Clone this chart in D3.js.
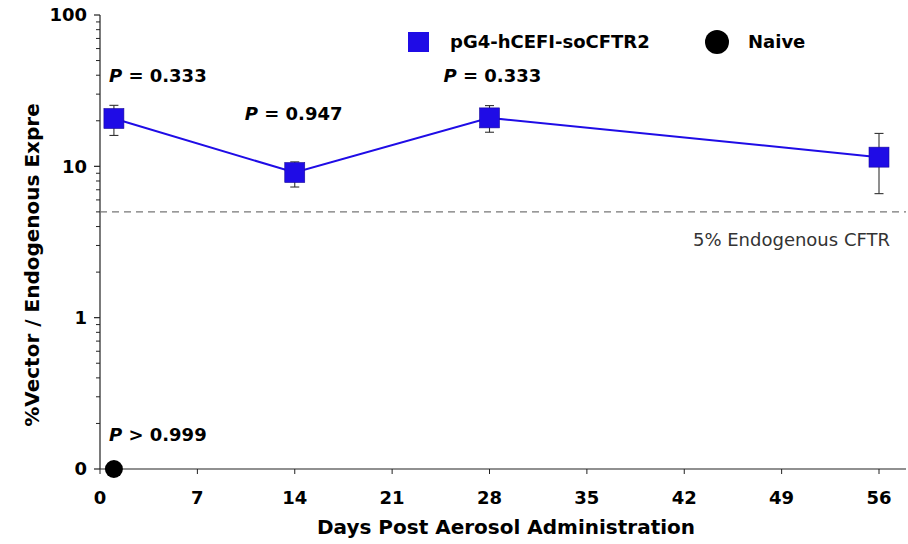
<!DOCTYPE html>
<html><head><meta charset="utf-8">
<script src="https://cdn.jsdelivr.net/npm/d3@7"></script>
<style>body{margin:0;background:#fff}svg{display:block}text{font-family:"DejaVu Sans",Verdana,sans-serif}</style>
</head><body><svg id="c" width="908" height="544"></svg>
<script>
const days = [1, 14, 28, 56];
const vectorMean = [20.7, 9.1, 20.9, 11.5];
const vectorUpper = [25.3, 10.7, 25.2, 16.5];
const vectorLower = [16.0, 7.3, 16.8, 6.6];
const naiveDays = [1];
const naiveValues = [0.1];
const xTicks = [0, 7, 14, 21, 28, 35, 42, 49, 56];
const yTicks = [0.1, 1, 10, 100];
const yTickLabels = ["0", "1", "10", "100"];
const threshold = 5;
const pLabels = [
  {day: 1, value: 40, op: "=", p: "0.333"},
  {day: 14, value: 22.5, op: "=", p: "0.947"},
  {day: 28, value: 40, op: "=", p: "0.333"},
  {day: 1, value: 0.17, op: ">", p: "0.999"}
];
const pLabelShift = [-5, -50, -46, -5];

const svg = d3.select("#c");
const x = d3.scaleLinear().domain([0, 56]).range([100, 879]);
const y = d3.scaleLog().domain([0.1, 100]).range([469, 15]);
const blue = "#1f0ce6";

// y axis
const minor = [];
for (let d = 0.1; d < 100; d *= 10) for (let k = 2; k <= 9; k++) minor.push(d * k);
const gy = svg.append("g");
gy.append("line").attr("x1", 100).attr("x2", 100).attr("y1", y(100)).attr("y2", y(0.1)).attr("stroke", "#222").attr("stroke-width", 1.2);
gy.selectAll(".mn").data(minor).join("line").attr("x1", 96).attr("x2", 100).attr("y1", d => y(d)).attr("y2", d => y(d)).attr("stroke", "#222");
gy.selectAll(".mj").data(yTicks).join("line").attr("x1", 94).attr("x2", 100).attr("y1", d => y(d)).attr("y2", d => y(d)).attr("stroke", "#222").attr("stroke-width", 1.2);
gy.selectAll(".lb").data(yTicks).join("text").attr("x", 87).attr("y", d => y(d)).attr("dy", "0.36em").attr("text-anchor", "end")
  .attr("font-size", 18).attr("font-weight", "bold").text((d, i) => yTickLabels[i]);

// x axis
const gx = svg.append("g");
gx.append("line").attr("x1", 100).attr("x2", 906).attr("y1", 469).attr("y2", 469).attr("stroke", "#222").attr("stroke-width", 1.2);
gx.selectAll(".t").data(xTicks).join("line").attr("x1", d => x(d)).attr("x2", d => x(d)).attr("y1", 469).attr("y2", 474).attr("stroke", "#222");
gx.selectAll(".l").data(xTicks).join("text").attr("x", d => x(d)).attr("y", 498).attr("dy", "0.36em").attr("text-anchor", "middle")
  .attr("font-size", 18).attr("font-weight", "bold").text(d => d);

// axis titles
svg.append("text").attr("x", 506).attr("y", 527).attr("dy", "0.36em").attr("text-anchor", "middle").attr("font-size", 20).attr("font-weight", "bold")
  .text("Days Post Aerosol Administration");
svg.append("text").attr("transform", "translate(32,265) rotate(-90)").attr("dy", "0.36em").attr("text-anchor", "middle").attr("font-size", 20).attr("font-weight", "bold")
  .text("%Vector / Endogenous Expre");

// threshold
svg.append("line").attr("x1", 100).attr("x2", 906).attr("y1", y(threshold)).attr("y2", y(threshold)).attr("stroke", "#777").attr("stroke-width", 1.3).attr("stroke-dasharray", "7,5");
svg.append("text").attr("x", 890).attr("y", 240).attr("dy", "0.36em").attr("text-anchor", "end").attr("font-size", 18).attr("fill", "#333")
  .text("5% Endogenous CFTR");

// line
svg.append("path").datum(days.map((d, i) => [d, vectorMean[i]]))
  .attr("d", d3.line().x(d => x(d[0])).y(d => y(d[1]))).attr("fill", "none").attr("stroke", blue).attr("stroke-width", 2);

// error bars
const eb = svg.append("g").attr("stroke", "#333").attr("stroke-width", 1.1);
days.forEach((d, i) => {
  eb.append("line").attr("x1", x(d)).attr("x2", x(d)).attr("y1", y(vectorUpper[i])).attr("y2", y(vectorLower[i]));
  eb.append("line").attr("x1", x(d) - 4.5).attr("x2", x(d) + 4.5).attr("y1", y(vectorUpper[i])).attr("y2", y(vectorUpper[i]));
  eb.append("line").attr("x1", x(d) - 4.5).attr("x2", x(d) + 4.5).attr("y1", y(vectorLower[i])).attr("y2", y(vectorLower[i]));
});

// squares
svg.selectAll(".sq").data(days).join("rect").attr("x", d => x(d) - 10).attr("y", (d, i) => y(vectorMean[i]) - 10)
  .attr("width", 20).attr("height", 20).attr("fill", blue).attr("stroke", "#1a0a9a").attr("stroke-width", 0.6);

// naive
svg.selectAll(".nv").data(naiveDays).join("circle").attr("cx", d => x(d)).attr("cy", (d, i) => y(naiveValues[i])).attr("r", 9).attr("fill", "#000");

// P labels
pLabels.forEach((p, i) => {
  const t = svg.append("text").attr("x", x(p.day) + pLabelShift[i]).attr("y", y(p.value)).attr("dy", "0.36em").attr("font-size", 18).attr("font-weight", "bold");
  t.append("tspan").attr("font-style", "italic").text("P");
  t.append("tspan").text(" " + p.op + " " + p.p);
});

// legend
svg.append("rect").attr("x", 408).attr("y", 32).attr("width", 21).attr("height", 20).attr("fill", blue);
svg.append("text").attr("x", 450).attr("y", 42).attr("dy", "0.36em").attr("font-size", 18).attr("font-weight", "bold").text("pG4-hCEFI-soCFTR2");
svg.append("circle").attr("cx", 717).attr("cy", 42).attr("r", 12).attr("fill", "#000");
svg.append("text").attr("x", 748).attr("y", 42).attr("dy", "0.36em").attr("font-size", 18).attr("font-weight", "bold").text("Naive");
</script></body></html>
